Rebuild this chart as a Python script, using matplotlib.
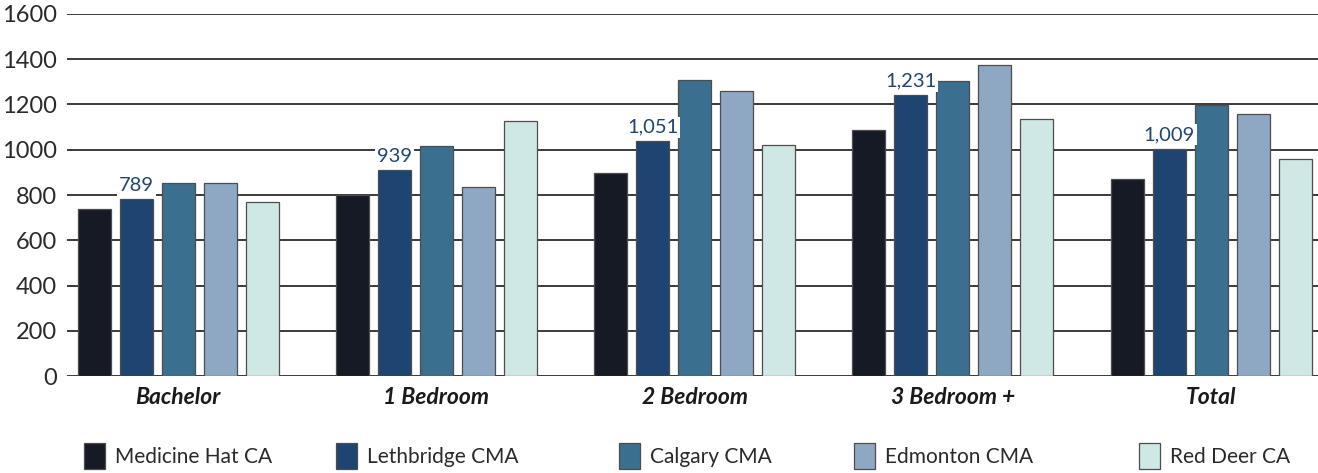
import numpy as np
import matplotlib
matplotlib.use("Agg")
import matplotlib.pyplot as plt
from matplotlib.patches import Patch

# Chart data
CATEGORIES = ["Bachelor", "1 Bedroom", "2 Bedroom", "3 Bedroom +", "Total"]
SERIES = ["Medicine Hat CA", "Lethbridge CMA", "Calgary CMA", "Edmonton CMA", "Red Deer CA"]
medicine_hat = [736, 799, 899, 1087, 872]
lethbridge = [782, 910, 1037, 1241, 1005]
calgary = [855, 1017, 1308, 1305, 1196]
edmonton = [855, 835, 1260, 1375, 1158]
red_deer = [767, 1128, 1020, 1137, 959]
# value labels printed above the Lethbridge bars
lethbridge_labels = ["789", "939", "1,051", "1,231", "1,009"]
Y_TICKS = [0, 200, 400, 600, 800, 1000, 1200, 1400, 1600]

COLORS = ["#161a24", "#1e4572", "#3b6f8f", "#8ea8c3", "#d0e8e5"]
LABEL_COLOR = "#1f4670"

plt.rcParams["font.family"] = ["Lato", "DejaVu Sans"]

fig = plt.figure(figsize=(13.18, 4.73), dpi=100)
ax = fig.add_axes([67 / 1318, 97 / 473, 1 - 67 / 1318, 362 / 473])

x = np.arange(len(CATEGORIES))
width = 0.128
step = 0.1626
all_series = [medicine_hat, lethbridge, calgary, edmonton, red_deer]

bars_by_series = []
for i, vals in enumerate(all_series):
    bars = ax.bar(x + (i - 2) * step, vals, width, color=COLORS[i],
                  edgecolor="#4d4d4d", linewidth=0.9, zorder=3)
    bars_by_series.append(bars)

# data labels on the Lethbridge bars
for bar, txt in zip(bars_by_series[1], lethbridge_labels):
    ax.annotate(txt, (bar.get_x() + bar.get_width() / 2, bar.get_height()),
                xytext=(0, 4), textcoords="offset points", ha="center", va="bottom",
                fontsize=14.5, color=LABEL_COLOR, zorder=4,
                bbox=dict(boxstyle="square,pad=0.1", fc="white", ec="none"))

ax.set_ylim(0, 1600)
ax.set_xlim(-0.43, 4.414)
ax.set_yticks(Y_TICKS)
ax.set_yticklabels([str(t) for t in Y_TICKS], fontsize=17, color="#2a2a2a")
ax.set_xticks(x)
ax.set_xticklabels(CATEGORIES, fontsize=16.5, fontweight="bold", fontstyle="italic",
                   color="#1a1a1a")
ax.tick_params(axis="both", length=0)
ax.tick_params(axis="y", pad=7)
ax.tick_params(axis="x", pad=8)
ax.yaxis.grid(True, color="#1a1a1a", linewidth=1.2, zorder=0)
ax.set_axisbelow(True)
for s in ax.spines.values():
    s.set_visible(False)

# legend entries spread across the bottom
legend_x = [84, 336, 619, 854, 1139]
for name, col, lx in zip(SERIES, COLORS, legend_x):
    h = Patch(facecolor=col, edgecolor="#4d4d4d", linewidth=0.9)
    leg = fig.legend(handles=[h], labels=[name], loc="center left",
                     bbox_to_anchor=(lx / 1318, 17 / 473), frameon=False,
                     fontsize=15, handlelength=1.0, handleheight=1.5,
                     handletextpad=0.5, borderaxespad=0, borderpad=0)
    for t in leg.get_texts():
        t.set_color("#2a2a2a")

fig.savefig("out.png", dpi=100)
